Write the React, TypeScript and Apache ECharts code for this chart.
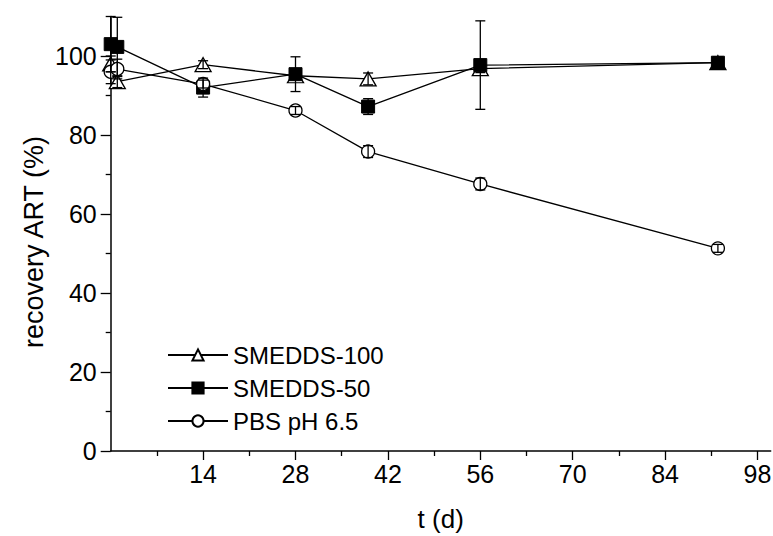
import React, { useEffect, useRef } from "react";
import * as echarts from "echarts";

const days = [0, 1, 14, 28, 39, 56, 92];
const smedds100 = [98, 93.5, 97.8, 95.0, 94.2, 96.8, 98.3];
const smedds100Err = [2, 1.5, 1, 1, 1.5, 1, 1.5];
const smedds50 = [103, 102.3, 92.0, 95.4, 87.2, 97.7, 98.3];
const smedds50Err = [7, 7.5, 2.4, 4.4, 2, 11.2, 1];
const pbs = [96.0, 96.7, 92.9, 86.2, 75.8, 67.6, 51.3];
const pbsErr = [3, 2.5, 1, 1, 1.5, 1.5, 1];
const xTicks = [14, 28, 42, 56, 70, 84, 98];
const yTicks = [0, 20, 40, 60, 80, 100];
const seriesNames = ["SMEDDS-100", "SMEDDS-50", "PBS pH 6.5"];

const FONT = "'Liberation Sans Narrow', 'Arial Narrow', 'Liberation Sans', Arial, sans-serif";

function pairs(vals: number[]) {
  return days.map((d, i) => [d, vals[i]]);
}
function errs(vals: number[], e: number[]) {
  return days.map((d, i) => [d, vals[i] - e[i], vals[i] + e[i]]);
}

const errRender = (params: any, api: any) => {
  const x = api.value(0);
  const lo = api.value(1);
  const hi = api.value(2);
  const p1 = api.coord([x, hi]);
  const p2 = api.coord([x, lo]);
  const w = 5;
  const st = { stroke: "#000", lineWidth: 1.3 };
  return {
    type: "group",
    children: [
      { type: "line", shape: { x1: p1[0], y1: p1[1], x2: p2[0], y2: p2[1] }, style: st },
      { type: "line", shape: { x1: p1[0] - w, y1: p1[1], x2: p1[0] + w, y2: p1[1] }, style: st },
      { type: "line", shape: { x1: p2[0] - w, y1: p2[1], x2: p2[0] + w, y2: p2[1] }, style: st },
    ],
  };
};

export default function App() {
  const ref = useRef<HTMLDivElement>(null);
  useEffect(() => {
    document.body.style.margin = "0";
    const chart = echarts.init(ref.current!, null, { renderer: "svg" });
    const lineBase = {
      type: "line",
      lineStyle: { color: "#000", width: 1.3 },
      z: 3,
    };
    chart.setOption({
      animation: false,
      backgroundColor: "#fff",
      grid: { left: 110.7, right: 2.3, top: 16.5, bottom: 85, outerBoundsMode: "none" },
      legend: {
        data: seriesNames,
        orient: "vertical",
        left: 162,
        top: 338,
        itemWidth: 60,
        itemHeight: 14,
        itemGap: 9,
        textStyle: { fontFamily: FONT, fontSize: 24, color: "#000" },
      },
      xAxis: {
        type: "value",
        min: 0,
        max: 100,
        interval: 14,
        name: "t (d)",
        nameLocation: "middle",
        nameGap: 55,
        nameTextStyle: { fontFamily: FONT, fontSize: 26, color: "#000" },
        axisLine: { lineStyle: { color: "#000", width: 1.5 } },
        axisTick: { length: 9, lineStyle: { color: "#000", width: 1.3 }, customValues: xTicks },
        minorTick: { show: true, splitNumber: 2, length: 5, lineStyle: { color: "#000", width: 1.3 } },
        axisLabel: {
          customValues: xTicks,
          margin: 10,
          fontFamily: FONT,
          fontSize: 25,
          color: "#000",
          formatter: (v: number) => (xTicks.includes(v) ? String(v) : ""),
        },
        splitLine: { show: false },
      },
      yAxis: {
        type: "value",
        min: 0,
        max: 110,
        interval: 20,
        axisLine: { show: true, lineStyle: { color: "#000", width: 1.5 } },
        axisTick: { show: true, length: 10, lineStyle: { color: "#000", width: 1.3 }, customValues: yTicks },
        minorTick: { show: true, splitNumber: 2, length: 5, lineStyle: { color: "#000", width: 1.3 } },
        axisLabel: {
          customValues: yTicks,
          margin: 14,
          fontFamily: FONT,
          fontSize: 25,
          color: "#000",
          formatter: (v: number) => (yTicks.includes(v) ? String(v) : ""),
        },
        splitLine: { show: false },
      },
      graphic: [
        {
          type: "text",
          x: 34,
          y: 242,
          rotation: Math.PI / 2,
          style: {
            text: "recovery ART (%)",
            font: `27px ${FONT}`,
            fill: "#000",
            align: "center",
            verticalAlign: "middle",
          },
        },
      ],
      series: [
        {
          ...lineBase,
          name: seriesNames[0],
          data: pairs(smedds100),
          symbol: "triangle",
          symbolSize: [16, 14],
          itemStyle: { color: "#fff", borderColor: "#000", borderWidth: 1.3 },
        },
        {
          ...lineBase,
          name: seriesNames[1],
          data: pairs(smedds50),
          symbol: "rect",
          symbolSize: 13,
          itemStyle: { color: "#000", borderColor: "#000", borderWidth: 1 },
        },
        {
          ...lineBase,
          name: seriesNames[2],
          data: pairs(pbs),
          symbol: "circle",
          symbolSize: 13,
          itemStyle: { color: "#fff", borderColor: "#000", borderWidth: 1.3 },
        },
        { type: "custom", renderItem: errRender, data: errs(smedds100, smedds100Err), encode: { x: 0, y: [1, 2] }, z: 5 },
        { type: "custom", renderItem: errRender, data: errs(smedds50, smedds50Err), encode: { x: 0, y: [1, 2] }, z: 5 },
        { type: "custom", renderItem: errRender, data: errs(pbs, pbsErr), encode: { x: 0, y: [1, 2] }, z: 5 },
      ],
    });
    return () => chart.dispose();
  }, []);
  return <div ref={ref} style={{ width: 773, height: 536 }} />;
}
